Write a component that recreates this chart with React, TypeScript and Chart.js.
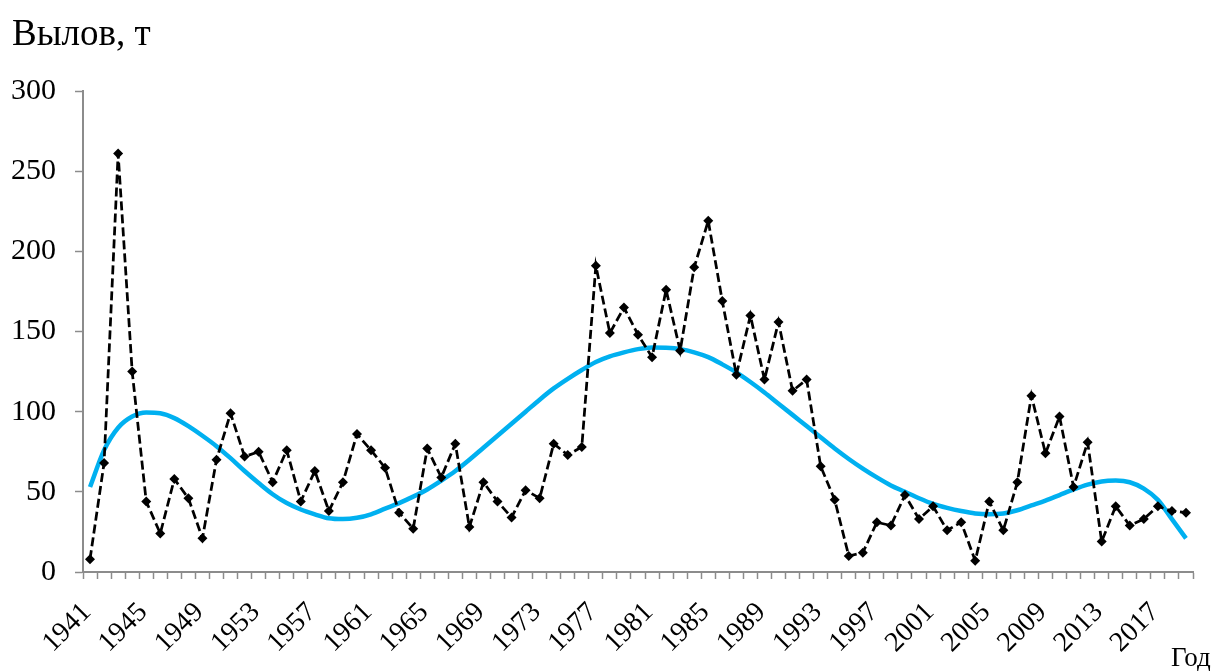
import React, { useEffect, useRef } from "react";
import { Chart, registerables } from "chart.js";

Chart.register(...registerables);

const years: string[] = [];
for (let y = 1941; y <= 2019; y++) years.push(String(y));

const catchValues = [
  8, 68, 261, 125, 44, 24, 58, 46, 21, 70,
  99, 72, 75, 56, 76, 44, 63, 38, 56, 86,
  76, 65, 37, 27, 77, 59, 80, 28, 56, 44,
  34, 51, 46, 80, 73, 78, 191, 149, 165, 148,
  134, 176, 138, 190, 219, 169, 123, 160, 120, 156,
  113, 120, 66, 45, 10, 12, 31, 29, 48, 33,
  41, 26, 31, 7, 44, 26, 56, 110, 74, 97,
  53, 81, 19, 41, 29, 33, 41, 38, 37,
];

const trendValues = [
  53, 76, 90, 97, 99.5, 99, 96, 91, 85, 78.5,
  71, 63, 55.5, 48.5, 43, 39, 36, 33.5, 33, 33.8,
  36, 39.5, 43, 47, 51.5, 57, 63, 70, 77.5, 85,
  92.5, 100, 107.5, 114.5, 120.5, 126, 131, 134.5, 137, 139,
  140, 139.8, 139, 137, 134, 129.5, 124.5, 118.5, 112, 105,
  98, 91, 84, 77, 70.5, 64.5, 59, 54, 50, 46,
  42.5, 40, 38, 36.5, 36, 36.5, 38.5, 41.5, 44.5, 48,
  51.5, 54.5, 56.5, 57, 56, 52, 45, 33, 21,
];

const yTicks = [0, 50, 100, 150, 200, 250, 300];
const xLabelStep = 4;
const yTitle = "Вылов, т";
const xTitle = "Год";

const FONT = "'Liberation Serif', 'Times New Roman', serif";
const AXIS = "#8c8c8c";

const textPlugin = {
  id: "texts",
  afterDraw(chart: any) {
    const ctx = chart.ctx;
    const xs = chart.scales.x;
    const bottom = chart.chartArea.bottom;
    ctx.save();
    ctx.fillStyle = "#000";
    ctx.textAlign = "left";
    ctx.textBaseline = "alphabetic";
    ctx.font = `37px ${FONT}`;
    ctx.fillText(yTitle, 12, 45);
    ctx.font = `27px ${FONT}`;
    ctx.fillText(xTitle, 1171, 666);
    ctx.font = `28px ${FONT}`;
    ctx.textAlign = "right";
    ctx.textBaseline = "middle";
    years.forEach((label, i) => {
      if (i % xLabelStep !== 0) return;
      const px = xs.getPixelForValue(i);
      ctx.save();
      ctx.translate(px - 3, bottom + 36);
      ctx.rotate(-Math.PI / 4);
      ctx.fillText(label, 0, 0);
      ctx.restore();
    });
    ctx.restore();
  },
};

export default function App() {
  const ref = useRef<HTMLCanvasElement | null>(null);
  useEffect(() => {
    document.body.style.margin = "0";
    const chart = new Chart(ref.current as HTMLCanvasElement, {
      type: "line",
      data: {
        labels: years,
        datasets: [
          {
            label: "trend",
            data: trendValues,
            borderColor: "#00B0F0",
            borderWidth: 4.5,
            pointRadius: 0,
            cubicInterpolationMode: "monotone",
            fill: false,
            order: 2,
          },
          {
            label: "catch",
            data: catchValues,
            borderColor: "#000",
            borderWidth: 2.75,
            borderDash: [9, 4],
            pointStyle: "rectRot",
            pointRadius: 5,
            pointBackgroundColor: "#000",
            pointBorderColor: "#000",
            pointBorderWidth: 0,
            tension: 0,
            fill: false,
            order: 1,
          },
        ],
      },
      options: {
        animation: false,
        responsive: true,
        maintainAspectRatio: false,
        layout: { padding: { top: 91, right: 27, bottom: 0, left: 0 } },
        plugins: { legend: { display: false }, tooltip: { enabled: false }, title: { display: false } },
        scales: {
          x: {
            type: "category",
            offset: true,
            grid: {
              display: true,
              offset: true,
              drawOnChartArea: false,
              drawTicks: true,
              tickLength: 7,
              tickWidth: 1.5,
              color: AXIS,
            },
            border: { display: true, color: AXIS, width: 2 },
            ticks: { display: false, autoSkip: false, maxRotation: 0, minRotation: 0 },
            afterFit: (s: any) => {
              s.height = 99;
            },
          },
          y: {
            min: 0,
            max: 300,
            afterBuildTicks: (s: any) => {
              s.ticks = yTicks.map((v) => ({ value: v }));
            },
            grid: {
              display: true,
              drawOnChartArea: false,
              drawTicks: true,
              tickLength: 8,
              tickWidth: 1.5,
              color: AXIS,
            },
            border: { display: true, color: AXIS, width: 2 },
            ticks: { padding: 19, color: "#000", font: { family: FONT, size: 30 } },
            afterFit: (s: any) => {
              s.width = 83;
            },
          },
        },
      },
      plugins: [textPlugin],
    } as any);
    return () => chart.destroy();
  }, []);
  return (
    <div style={{ position: "relative", width: "1220px", height: "671px" }}>
      <canvas ref={ref} />
    </div>
  );
}
